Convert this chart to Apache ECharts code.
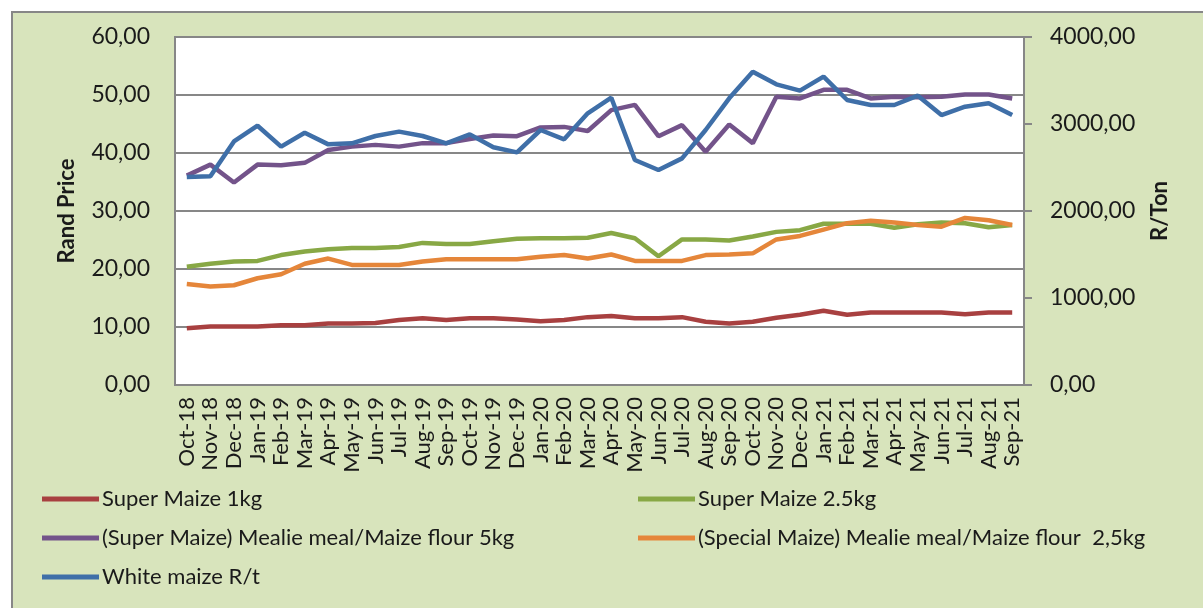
<!DOCTYPE html>
<html>
<head>
<meta charset="utf-8">
<script src="https://cdn.jsdelivr.net/npm/echarts@6/dist/echarts.min.js"></script>
<style>
  html, body { margin: 0; padding: 0; background: #fff; }
  #chart { width: 1203px; height: 608px; }
</style>
</head>
<body>
<div id="chart"></div>
<script>
  // months Oct-18 .. Sep-21
  var months = ['Oct-18', 'Nov-18', 'Dec-18', 'Jan-19', 'Feb-19', 'Mar-19', 'Apr-19', 'May-19', 'Jun-19',
    'Jul-19', 'Aug-19', 'Sep-19', 'Oct-19', 'Nov-19', 'Dec-19', 'Jan-20', 'Feb-20', 'Mar-20', 'Apr-20',
    'May-20', 'Jun-20', 'Jul-20', 'Aug-20', 'Sep-20', 'Oct-20', 'Nov-20', 'Dec-20', 'Jan-21', 'Feb-21',
    'Mar-21', 'Apr-21', 'May-21', 'Jun-21', 'Jul-21', 'Aug-21', 'Sep-21'];

  var superMaize1kg = [9.8, 10.1, 10.1, 10.1, 10.3, 10.3, 10.6, 10.6, 10.7, 11.2, 11.5, 11.2,
    11.5, 11.5, 11.3, 11.0, 11.2, 11.7, 11.9, 11.5, 11.5, 11.7, 10.9, 10.6,
    10.9, 11.6, 12.1, 12.8, 12.1, 12.5, 12.5, 12.5, 12.5, 12.2, 12.5, 12.5];

  var superMaize25kg = [20.4, 20.9, 21.3, 21.4, 22.4, 23.0, 23.4, 23.6, 23.6, 23.8, 24.5, 24.3,
    24.3, 24.8, 25.2, 25.3, 25.3, 25.4, 26.2, 25.3, 22.2, 25.1, 25.1, 24.9,
    25.6, 26.4, 26.7, 27.8, 27.8, 27.8, 27.1, 27.7, 28.0, 27.9, 27.2, 27.6];

  var superMealie5kg = [36.1, 38.0, 34.9, 38.0, 37.9, 38.3, 40.5, 41.1, 41.4, 41.1, 41.7, 41.7,
    42.4, 43.0, 42.9, 44.4, 44.5, 43.8, 47.4, 48.3, 42.9, 44.8, 40.2, 44.9,
    41.7, 49.7, 49.4, 50.9, 50.9, 49.4, 49.7, 49.6, 49.7, 50.1, 50.1, 49.4];

  var specialMealie25kg = [17.4, 17.0, 17.2, 18.4, 19.1, 20.9, 21.8, 20.7, 20.7, 20.7, 21.3, 21.7,
    21.7, 21.7, 21.7, 22.1, 22.4, 21.8, 22.5, 21.4, 21.4, 21.4, 22.4, 22.5,
    22.7, 25.1, 25.7, 26.8, 27.9, 28.3, 28.0, 27.6, 27.3, 28.8, 28.4, 27.6];

  var whiteMaizeRt = [2390, 2400, 2800, 2980, 2740, 2900, 2766, 2778, 2862, 2912, 2862, 2778,
    2881, 2732, 2674, 2931, 2824, 3123, 3302, 2586, 2471, 2605, 2931, 3295,
    3601, 3456, 3383, 3544, 3276, 3218, 3218, 3326, 3103, 3199, 3238, 3103];

  var leftTicks = [0, 60, 10];
  var rightTicks = [0, 4000, 1000];

  var names = ['Super Maize 1kg', 'Super Maize 2.5kg', '(Super Maize) Mealie meal/Maize flour 5kg',
    '(Special Maize) Mealie meal/Maize flour  2,5kg', 'White maize R/t'];
  var colors = ['#A84040', '#88A845', '#73538A', '#E5863A', '#3F6FA8'];

  var chart = echarts.init(document.getElementById('chart'));

  var txt = '#1a1a1a';
  var gray = '#878787';
  var font = 'Lato';

  function comma(v) {
    return v.toFixed(2).replace('.', ',');
  }

  // legend placed in two columns like the original
  var legendPos = [
    { left: 42, top: 488 },
    { left: 638, top: 488 },
    { left: 42, top: 527 },
    { left: 638, top: 527 },
    { left: 42, top: 566 }
  ];
  var legends = names.map(function (n, i) {
    return {
      data: [n],
      left: legendPos[i].left,
      top: legendPos[i].top,
      icon: 'rect',
      itemWidth: 57,
      itemHeight: 5,
      itemGap: 4,
      padding: 0,
      textStyle: { fontFamily: font, fontSize: 22, color: txt, padding: [0, 0, 0, -2] }
    };
  });

  var seriesData = [superMaize1kg, superMaize25kg, superMealie5kg, specialMealie25kg, whiteMaizeRt];

  chart.setOption({
    animation: false,
    backgroundColor: '#fff',
    graphic: [{
      type: 'rect',
      z: -10,
      silent: true,
      shape: { x: 12, y: 12, width: 1210, height: 620 },
      style: { fill: '#D8E4BC', stroke: gray, lineWidth: 2 }
    }],
    color: colors,
    legend: legends,
    grid: {
      left: 175,
      right: 179,
      top: 37,
      bottom: 223,
      show: true,
      backgroundColor: '#fff',
      borderColor: gray,
      borderWidth: 2
    },
    xAxis: {
      type: 'category',
      data: months,
      boundaryGap: true,
      axisLine: { lineStyle: { color: gray, width: 2 } },
      axisTick: { show: false },
      axisLabel: {
        interval: 0,
        rotate: 90,
        margin: 12,
        color: txt,
        fontFamily: font,
        fontSize: 22
      }
    },
    yAxis: [{
      type: 'value',
      min: leftTicks[0],
      max: leftTicks[1],
      interval: leftTicks[2],
      name: 'Rand Price',
      nameLocation: 'middle',
      nameRotate: 90,
      nameGap: 97,
      nameTextStyle: { fontFamily: font, fontSize: 22, fontWeight: 'bold', color: txt },
      axisLine: { show: true, lineStyle: { color: gray, width: 2 } },
      axisTick: { show: false },
      splitLine: { lineStyle: { color: gray, width: 2 } },
      axisLabel: {
        margin: 25,
        color: txt,
        fontFamily: font,
        fontSize: 23,
        formatter: comma
      }
    }, {
      type: 'value',
      position: 'right',
      min: rightTicks[0],
      max: rightTicks[1],
      interval: rightTicks[2],
      name: 'R/Ton',
      nameLocation: 'middle',
      nameRotate: 90,
      nameGap: 125,
      nameTextStyle: { fontFamily: font, fontSize: 22, fontWeight: 'bold', color: txt },
      axisLine: { show: true, lineStyle: { color: gray, width: 2 } },
      axisTick: { show: true, length: 8, lineStyle: { color: gray, width: 2 } },
      splitLine: { show: false },
      axisLabel: {
        margin: 26,
        color: txt,
        fontFamily: font,
        fontSize: 23,
        formatter: comma
      }
    }],
    series: seriesData.map(function (d, i) {
      return {
        name: names[i],
        type: 'line',
        yAxisIndex: i === 4 ? 1 : 0,
        data: d,
        symbol: 'none',
        lineStyle: { width: 4.5, color: colors[i] },
        itemStyle: { color: colors[i] },
        z: i === 4 ? 3 : 2
      };
    })
  });
</script>
</body>
</html>
